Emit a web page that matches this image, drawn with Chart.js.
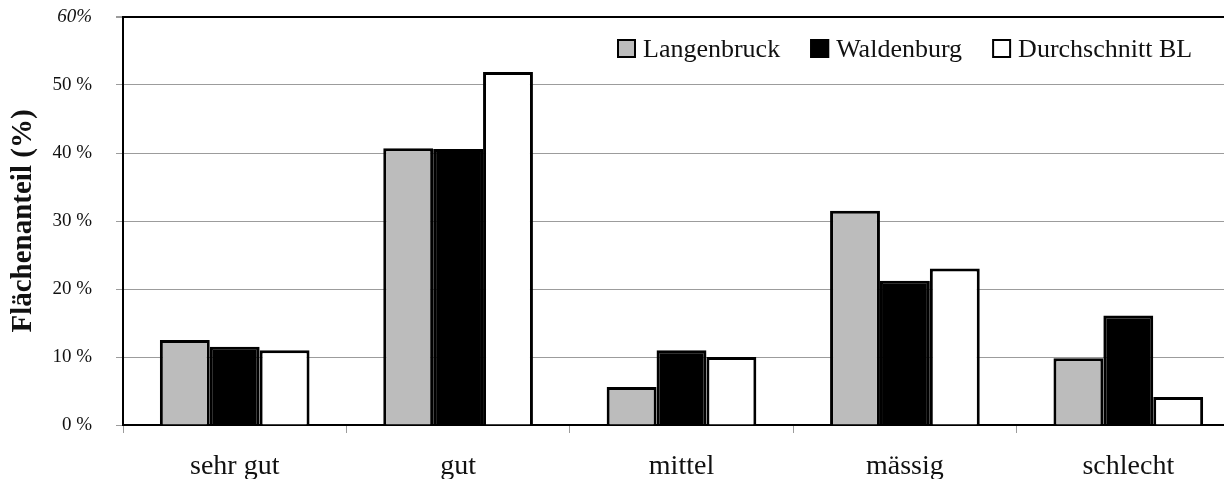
<!DOCTYPE html>
<html>
<head>
<meta charset="utf-8">
<script src="https://cdn.jsdelivr.net/npm/chart.js@4/dist/chart.umd.min.js"></script>
<style>
  html, body { margin: 0; padding: 0; background: #fff; overflow: hidden; }
  #wrap { position: relative; width: 1240px; height: 479px; }
</style>
</head>
<body>
<div id="wrap"><canvas id="c"></canvas></div>
<script>
const categories = ['sehr gut', 'gut', 'mittel', 'mässig', 'schlecht'];
const seriesNames = ['Langenbruck', 'Waldenburg', 'Durchschnitt BL'];
const langenbruck = [12.5, 40.7, 5.6, 31.5, 9.8];
const waldenburg = [11.5, 40.6, 11.0, 21.2, 16.1];
const durchschnittBL = [11.0, 51.9, 10.0, 23.0, 4.1];
const yTicks = [0, 10, 20, 30, 40, 50, 60];
const yTitle = 'Flächenanteil (%)';

const SERIF = '"Liberation Serif", "Times New Roman", serif';
const fills = ['#bcbcbc', '#000000', '#ffffff'];
const GRID = '#9c9c9c';

const legendPlugin = {
  id: 'boxLegend',
  afterDraw(chart) {
    const ctx = chart.ctx;
    ctx.save();
    ctx.font = '26px ' + SERIF;
    ctx.textBaseline = 'alphabetic';
    let x = 617;
    const boxTop = 39, box = 19;
    chart.data.datasets.forEach(ds => {
      ctx.fillStyle = ds.backgroundColor;
      ctx.fillRect(x, boxTop, box, box);
      ctx.lineWidth = 2;
      ctx.strokeStyle = '#000';
      ctx.strokeRect(x + 1, boxTop + 1, box - 2, box - 2);
      x += box + 7;
      ctx.fillStyle = '#111';
      ctx.fillText(ds.label, x, boxTop + 18);
      x += ctx.measureText(ds.label).width + 30;
    });
    ctx.restore();
  }
};

new Chart(document.getElementById('c'), {
  type: 'bar',
  data: {
    labels: categories,
    datasets: [
      { label: seriesNames[0], data: langenbruck, backgroundColor: fills[0] },
      { label: seriesNames[1], data: waldenburg, backgroundColor: fills[1] },
      { label: seriesNames[2], data: durchschnittBL, backgroundColor: fills[2] }
    ].map(d => Object.assign(d, {
      borderColor: '#000', borderWidth: 3,
      categoryPercentage: 0.67, barPercentage: 1.0
    }))
  },
  options: {
    responsive: true,
    maintainAspectRatio: false,
    animation: false,
    devicePixelRatio: 1,
    layout: { padding: { top: 17, right: 0, bottom: 0, left: 0 } },
    plugins: { legend: { display: false }, tooltip: { enabled: false } },
    scales: {
      x: {
        afterFit: s => { s.height = 54; s.paddingLeft = 0; s.paddingRight = 0; },
        grid: {
          drawOnChartArea: false, drawTicks: true, tickLength: 8,
          tickColor: GRID, offset: true
        },
        border: { display: true, color: '#000', width: 2 },
        ticks: {
          color: '#111', padding: 18,
          font: { family: SERIF, size: 28, lineHeight: 1.1 }
        }
      },
      y: {
        min: 0, max: 60,
        afterFit: s => { s.width = 123; s.paddingTop = 0; s.paddingBottom = 0; },
        afterBuildTicks: s => { s.ticks = yTicks.map(v => ({ value: v })); },
        grid: {
          color: c => (c.tick && c.tick.value === 60) ? '#000' : GRID,
          lineWidth: c => (c.tick && c.tick.value === 60) ? 2 : 1,
          tickColor: GRID, tickLength: 7
        },
        border: { display: true, color: '#000', width: 2 },
        ticks: {
          color: '#111', padding: 24,
          callback: v => v === 60 ? '60%' : v + ' %',
          font: c => ({ family: SERIF, size: 19, style: (c.tick && c.tick.value === 60) ? 'italic' : 'normal' })
        },
        title: {
          display: true, text: yTitle, color: '#111',
          padding: { top: 6, bottom: 0 },
          font: { family: SERIF, size: 29, weight: 'bold' }
        }
      }
    }
  },
  plugins: [legendPlugin]
});
</script>
</body>
</html>
